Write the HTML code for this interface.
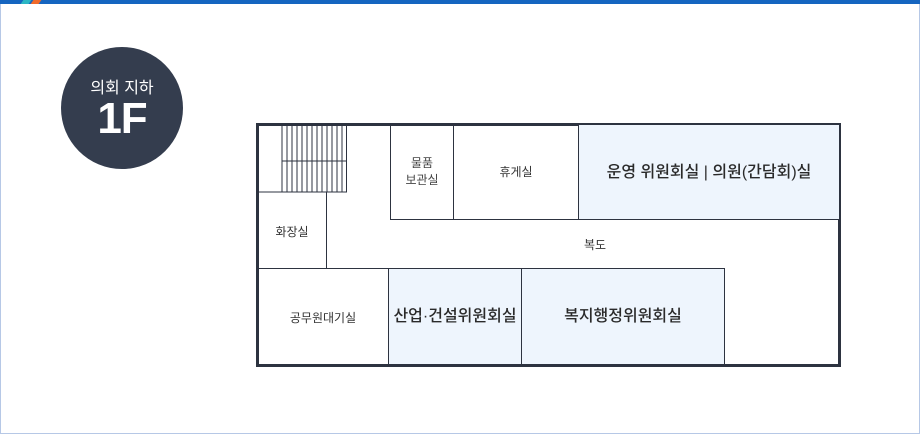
<!DOCTYPE html>
<html><head><meta charset="utf-8"><style>
*{margin:0;padding:0;box-sizing:border-box}
body{width:920px;height:434px;background:#fff;position:relative;overflow:hidden;font-family:"Liberation Sans","Noto Sans CJK KR",sans-serif;color:#333}
.frame{position:absolute;left:0;top:0;width:920px;height:434px;border:1px solid #b6c8e6;border-top:none}
.top{position:absolute;left:0;top:0;width:920px;height:4px;background:#1565c0}
.a{position:absolute;top:0;height:4px;width:8px;transform:skewX(-35deg)}
.circ{position:absolute;left:61px;top:47px;width:122px;height:122px;border-radius:50%;background:#343d4e;color:#fff;text-align:center}
.circ .t{position:absolute;top:27px;width:100%;font-size:16px}
.circ .f{position:absolute;top:47px;width:100%;font-size:44px;font-weight:bold;letter-spacing:-1px}
.r{position:absolute;border:1px solid #2d3340;display:flex;align-items:center;justify-content:center;text-align:center;font-size:12px;line-height:17px}
.b{background:#eef5fd;font-size:16px;font-weight:500;color:#2a2a2a}
.out{position:absolute;left:256px;top:123px;width:585px;height:244px;border:3px solid #2d3340}
</style></head><body>
<div class="frame"></div>
<div class="top"></div>
<div class="a" style="left:22px;background:#2bb6c4"></div>
<div class="a" style="left:32px;background:#f06a2a"></div>
<div class="circ"><div class="t">의회 지하</div><div class="f">1F</div></div>
<div class="out"></div>
<svg style="position:absolute;left:0;top:0" width="920" height="434">
<g stroke="#2d3340" stroke-width="1">
<line x1="257" y1="192" x2="347" y2="192"/>
<line x1="282" y1="161" x2="347" y2="161"/>
<line x1="282" y1="126" x2="282" y2="192"/><line x1="287" y1="126" x2="287" y2="192"/><line x1="292" y1="126" x2="292" y2="192"/><line x1="297" y1="126" x2="297" y2="192"/><line x1="302" y1="126" x2="302" y2="192"/><line x1="307" y1="126" x2="307" y2="192"/><line x1="312" y1="126" x2="312" y2="192"/><line x1="317" y1="126" x2="317" y2="192"/><line x1="322" y1="126" x2="322" y2="192"/><line x1="327" y1="126" x2="327" y2="192"/><line x1="332" y1="126" x2="332" y2="192"/><line x1="337" y1="126" x2="337" y2="192"/><line x1="342" y1="126" x2="342" y2="192"/><line x1="346.5" y1="126" x2="346.5" y2="192"/>
<line x1="326.5" y1="192" x2="326.5" y2="269"/>
<line x1="257" y1="268.5" x2="388" y2="268.5"/>
</g></svg>
<div class="r" style="left:390px;top:124px;width:64px;height:96px;color:#444">물품<br>보관실</div>
<div class="r" style="left:453px;top:124px;width:126px;height:96px">휴게실</div>
<div class="r b" style="left:578px;top:124px;width:262px;height:96px">운영 위원회실 | 의원(간담회)실</div>
<div style="position:absolute;left:257px;top:193px;width:70px;height:76px;display:flex;align-items:center;justify-content:center;font-size:12px">화장실</div>
<div style="position:absolute;left:560px;top:236px;width:70px;text-align:center;font-size:12px">복도</div>
<div style="position:absolute;left:257px;top:269px;width:132px;height:96px;display:flex;align-items:center;justify-content:center;font-size:12px">공무원대기실</div>
<div class="r b" style="left:388px;top:268px;width:134px;height:97px">산업·건설위원회실</div>
<div class="r b" style="left:521px;top:268px;width:204px;height:97px">복지행정위원회실</div>
</body></html>
